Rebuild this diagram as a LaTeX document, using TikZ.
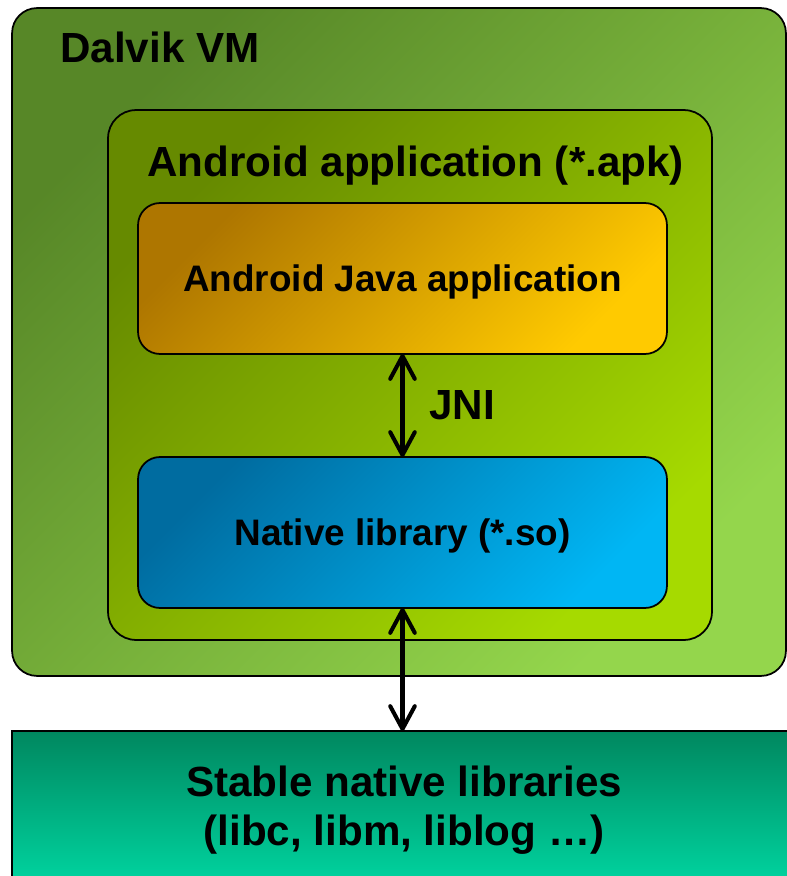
\documentclass[tikz,border=0pt]{standalone}
\usepackage{fontspec}
\setmainfont{Liberation Sans}
\usetikzlibrary{arrows.meta,positioning}
\definecolor{vmdark}{HTML}{578727}
\definecolor{vmlight}{HTML}{94D64C}
\definecolor{apkdark}{HTML}{668A00}
\definecolor{apklight}{HTML}{A6DA00}
\definecolor{javadark}{HTML}{AE7600}
\definecolor{javalight}{HTML}{FFCA00}
\definecolor{libdark}{HTML}{006CA0}
\definecolor{liblight}{HTML}{00B6F4}
\definecolor{stabletop}{HTML}{00875F}
\definecolor{stablebottom}{HTML}{00D7A2}
\tikzset{
    box/.style={draw=black, line width=1pt, inner sep=0pt, outer sep=0pt},
    bigfont/.style={font=\fontsize{24}{30.7}\selectfont\bfseries},
    smallfont/.style={font=\fontsize{21}{25}\selectfont\bfseries, text height=15pt, text depth=0pt},
    link/.style={line width=2.3pt,
        {Straight Barb[length=13pt,width=14pt,round]}-{Straight Barb[length=13pt,width=14pt,round]}}
}
\begin{document}
\begin{tikzpicture}[x=0.02cm, y=-0.02cm]
        \useasboundingbox (0,0) rectangle (787,876);
        % nested boxes
        \node [box, rounded corners=0.5cm, minimum width=15.48cm, minimum height=13.36cm,
            top color=vmdark, bottom color=vmlight, shading angle=45] (dalvik) at (399,342) {};
        \node [box, rounded corners=0.56cm, minimum width=12.08cm, minimum height=10.6cm,
            top color=apkdark, bottom color=apklight, shading angle=45] (apk) at (410,375) {};
        \node [box, smallfont, rounded corners=0.44cm, minimum width=10.58cm, minimum height=3.02cm,
            top color=javadark, bottom color=javalight, shading angle=45] (java) at (402.5,278.5) {Android Java application};
        \node [box, smallfont, rounded corners=0.44cm, minimum width=10.58cm, minimum height=3.02cm,
            top color=libdark, bottom color=liblight, shading angle=45] (native) at (402.5,532.5) {Native library (*.so)};
        \node [box, bigfont, align=center, minimum width=15.68cm, minimum height=3.16cm,
            top color=stabletop, bottom color=stablebottom] (stable) at (404,810) {\raisebox{-3pt}{Stable native libraries}\\(libc, libm, liblog …)};
        % titles
        \node [bigfont, anchor=base west, inner sep=0pt] (dalviklbl) at (60,62) {Dalvik VM};
        \node [bigfont, anchor=base west, inner sep=0pt] (apklbl) at (147,176) {Android application (*.apk)};
        % connectors
        \draw [link] (java.south) -- node [bigfont, right=0.5cm, inner sep=0pt] (jni) {JNI} (native.north);
        \draw [link] (native.south) -- (native.south |- stable.north);
    \end{tikzpicture}
\end{document}
